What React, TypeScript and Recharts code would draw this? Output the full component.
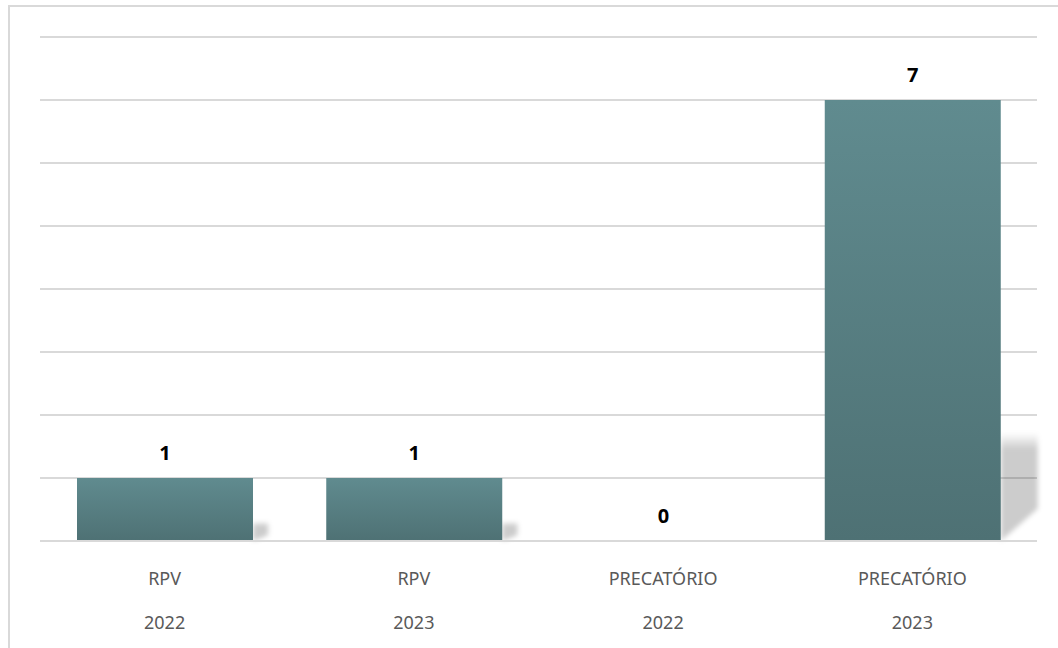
import React from 'react';
import { BarChart, Bar, XAxis, YAxis, CartesianGrid, LabelList } from 'recharts';

const kinds = ['RPV', 'RPV', 'PRECATÓRIO', 'PRECATÓRIO'];
const years = ['2022', '2023', '2022', '2023'];
const totals = [1, 1, 0, 7];
const yTicks = [0, 1, 2, 3, 4, 5, 6, 7, 8];

const data = kinds.map((k, i) => ({ key: `${k}|${years[i]}`, kind: k, year: years[i], total: totals[i] }));

const FONT = '"Noto Sans", sans-serif';

const TwoLineTick = (props: any) => {
  const { x, y, payload } = props;
  const [kind, year] = String(payload.value).split('|');
  return (
    <g>
      <text x={x} y={y + 37} textAnchor="middle" dominantBaseline="central" fill="#595959" fontSize={18} fontFamily={FONT}>
        {kind}
      </text>
      <text x={x} y={y + 81} textAnchor="middle" dominantBaseline="central" fill="#595959" fontSize={18} fontFamily={FONT}>
        {year}
      </text>
    </g>
  );
};

// bar with a soft shadow on the lower right side
const ShadowBar = (props: any) => {
  const { x, y, width, height } = props;
  if (!height || height <= 0) return null;
  const yb = y + height;
  const sh = Math.min(height * 0.3, 108);
  const sw = Math.min(37, sh * 0.8);
  const right = x + width;
  const shadow = `M ${right} ${yb - sh} L ${right + sw} ${yb - sh} L ${right + sw} ${yb - sh * 0.3} L ${right} ${yb} Z`;
  return (
    <g>
      <path d={shadow} fill="url(#shadowGrad)" filter="url(#soft)" />
      <rect x={x} y={y} width={width} height={height} fill="url(#barGrad)" />
    </g>
  );
};

export default function App() {
  return (
    <div
      style={{
        position: 'absolute',
        left: 8,
        top: 5,
        width: 1060,
        height: 650,
        border: '2px solid #d9d9d9',
        background: '#fff',
      }}
    >
      <BarChart
        width={1048}
        height={640}
        data={data}
        margin={{ top: 30, right: 21, left: 30, bottom: 16 }}
        barSize={176}
      >
        <defs>
          <linearGradient id="barGrad" x1="0" y1="0" x2="0" y2="1">
            <stop offset="0%" stopColor="#608b8f" />
            <stop offset="100%" stopColor="#4e7174" />
          </linearGradient>
          <linearGradient id="shadowGrad" x1="0" y1="0" x2="0" y2="1">
            <stop offset="0%" stopColor="#000" stopOpacity={0} />
            <stop offset="15%" stopColor="#000" stopOpacity={0.2} />
            <stop offset="100%" stopColor="#000" stopOpacity={0.2} />
          </linearGradient>
          <filter id="soft" x="-50%" y="-50%" width="200%" height="200%">
            <feGaussianBlur stdDeviation="2.5" />
          </filter>
        </defs>
        <CartesianGrid vertical={false} stroke="#d9d9d9" strokeWidth={2} />
        <XAxis
          dataKey="key"
          axisLine={{ stroke: '#d9d9d9', strokeWidth: 2 }}
          tickLine={false}
          tickSize={0}
          tickMargin={0}
          height={90}
          interval={0}
          tick={<TwoLineTick />}
        />
        <YAxis hide domain={[0, 8]} ticks={yTicks} />
        <Bar dataKey="total" shape={<ShadowBar />} isAnimationActive={false}>
          <LabelList
            dataKey="total"
            position="top"
            offset={18}
            fill="#000"
            fontSize={20}
            fontWeight="bold"
            fontFamily={FONT}
          />
        </Bar>
      </BarChart>
    </div>
  );
}
